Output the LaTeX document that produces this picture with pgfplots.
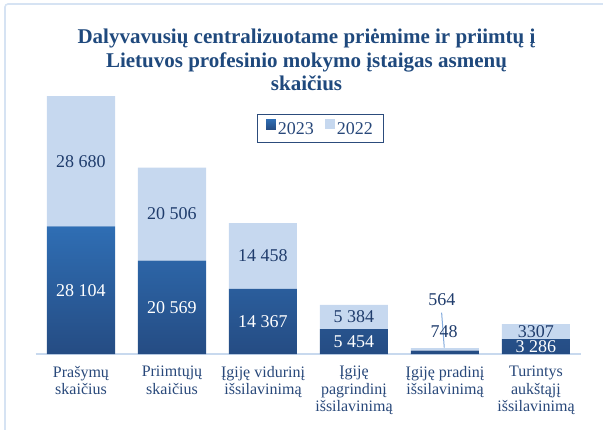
\documentclass[border=0pt]{standalone}
\usepackage{pgfplots}
\pgfplotsset{compat=1.18}
\usepackage{fontspec}
\setmainfont{Liberation Serif}
\definecolor{darktop}{RGB}{47,110,180}
\definecolor{darkbot}{RGB}{37,76,131}
\definecolor{lightbar}{RGB}{198,216,239}
\definecolor{titlec}{RGB}{31,73,125}
\definecolor{labc}{RGB}{40,72,122}
\definecolor{valc}{RGB}{31,60,108}
\definecolor{framec}{RGB}{214,227,243}
\definecolor{axisc}{RGB}{200,217,238}
\definecolor{leaderc}{RGB}{130,170,220}
\definecolor{legc}{RGB}{44,76,124}
\tikzset{vall/.style={font=\fontsize{18}{18}\selectfont, inner sep=0pt}}
\pgfplotsset{samegeom/.style={at={(35.5pt,75pt)}, anchor=south west, scale only axis,
  width=546pt, height=272.4pt, xmin=-0.5, xmax=5.5, ymin=0, ymax=60000, clip=false}}
\begin{document}
\begin{tikzpicture}
\path[use as bounding box] (0pt,0pt) rectangle (603pt,429pt);
\draw[framec, line width=1.6pt, rounded corners=3pt] (5pt,-5pt) -- (5pt,425pt) -- (610pt,425pt);
\node[anchor=base, text=titlec, font=\fontsize{21}{24}\selectfont\bfseries] at (306.5pt,385pt) {Dalyvavusių centralizuotame priėmime ir priimtų į};
\node[anchor=base, text=titlec, font=\fontsize{21}{24}\selectfont\bfseries] at (306.5pt,361.3pt) {Lietuvos profesinio mokymo įstaigas asmenų};
\node[anchor=base, text=titlec, font=\fontsize{21}{24}\selectfont\bfseries] at (306.5pt,338pt) {skaičius};
\begin{axis}[
  samegeom,
  ybar stacked, bar width=68pt,
  axis x line=bottom, axis y line=left,
  y axis line style={draw=none},
  x axis line style={draw=axisc, line width=1.2pt, -},
  xtick={0,1,2,3,4,5}, ytick=\empty, major tick length=0pt,
  xticklabels={{Prašymų\\skaičius},{Priimtųjų\\skaičius},{Įgiję vidurinį\\išsilavinimą},{Įgiję\\pagrindinį\\išsilavinimą},{Įgiję pradinį\\išsilavinimą},{Turintys\\aukštąjį\\išsilavinimą}},
  xticklabel style={align=center, anchor=north, yshift=-12pt, inner sep=0pt, text=labc, font=\fontsize{16}{17.5}\selectfont},
  legend columns=2,
  legend style={at={(0.522,0.8278)}, anchor=center, draw=legc, line width=1.2pt, fill=white,
    font=\fontsize{18}{18}\selectfont, text=labc, inner xsep=8.5pt, inner ysep=5pt,
    /tikz/every even column/.append style={column sep=9.5pt}},
]
\addplot[draw=none, top color=darktop, bottom color=darkbot,
  legend image code/.code={\fill[top color=darktop, bottom color=darkbot] (0pt,-0.3pt) rectangle (9.7pt,10pt);}]
  coordinates {(0,28104) (1,20569) (2,14367) (3,5454) (4,748) (5,3286)};
\addlegendentry{2023}
\addplot[draw=none, fill=lightbar,
  legend image code/.code={\fill[lightbar] (0pt,-0.3pt) rectangle (9.7pt,10pt);}]
  coordinates {(0,28680) (1,20506) (2,14458) (3,5384) (4,564) (5,3307)};
\addlegendentry{2022}
\end{axis}
\begin{axis}[samegeom, hide axis]
\node[vall, text=white] at (axis cs:0,14052) {28 104};
\node[vall, text=white] at (axis cs:1,10284) {20 569};
\node[vall, text=white] at (axis cs:2,7183) {14 367};
\node[vall, text=white] at (axis cs:3,2727) {5 454};
\node[vall, text=white] at (axis cs:5,1643) {3 286};
\node[vall, text=valc] at (axis cs:0,42444) {28 680};
\node[vall, text=valc] at (axis cs:1,30822) {20 506};
\node[vall, text=valc] at (axis cs:2,21596) {14 458};
\node[vall, text=valc] at (axis cs:3,8146) {5 384};
\node[vall, text=valc] at (axis cs:5,4940) {3307};
\draw[leaderc, line width=1pt] (axis cs:3.963,9100) -- (axis cs:3.992,1390);
\node[vall, text=valc] at (axis cs:3.99,4912) {748};
\node[vall, text=valc] at (axis cs:3.967,11894) {564};
\end{axis}
\end{tikzpicture}
\end{document}
